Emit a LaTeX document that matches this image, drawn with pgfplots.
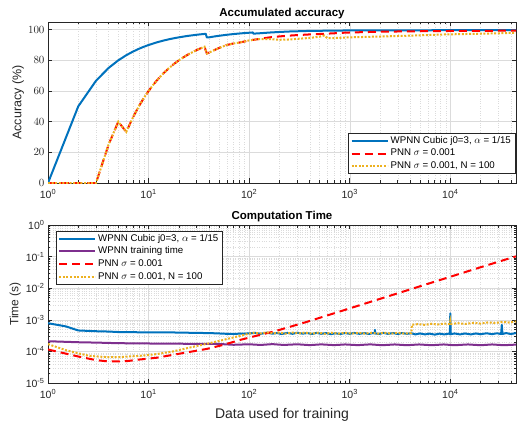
\documentclass[border=0pt]{standalone}
\usepackage{fontspec}
\setmainfont{Liberation Sans}
\usepackage{pgfplots}
\pgfplotsset{compat=1.18}
\definecolor{mblue}{rgb}{0,0.447,0.741}
\definecolor{mred}{rgb}{1,0,0}
\definecolor{myellow}{rgb}{0.929,0.694,0.125}
\definecolor{mpurple}{rgb}{0.494,0.184,0.556}
\definecolor{axgray}{rgb}{0.15,0.15,0.15}
\definecolor{gridc}{rgb}{0.86,0.86,0.86}
\tikzset{
  pblue/.style={color=mblue, line width=2pt, line join=round},
  ppurple/.style={color=mpurple, line width=2pt, line join=round},
  pred/.style={color=mred, line width=2pt, dash pattern=on 8pt off 5pt},
  pyellow/.style={color=myellow, line width=2pt, dash pattern=on 2pt off 1.6pt},
}
\begin{document}
\begin{tikzpicture}
\useasboundingbox (0,0) rectangle (517pt,421pt);
% ---------------- top axis ----------------
\begin{axis}[
    scale only axis, width=468pt, height=161pt,
    at={(48pt,238pt)}, anchor=south west,
    xmode=log, xmin=1, xmax=45000,
    xtick={1,10,100,1000,10000},
    xticklabels={10\textsuperscript{0},10\textsuperscript{1},10\textsuperscript{2},10\textsuperscript{3},10\textsuperscript{4}},
    minor xtick={2,3,4,5,6,7,8,9,20,30,40,50,60,70,80,90,200,300,400,500,600,700,800,900,2000,3000,4000,5000,6000,7000,8000,9000,20000,30000,40000},
    tick align=inside,
    major tick length=4.5pt, minor tick length=2.5pt,
    axis line style={axgray, line width=0.5pt},
    every tick/.style={axgray, line width=0.5pt},
    tick label style={font=\fontsize{10.5}{12}\selectfont, color=axgray},
    xticklabel style={anchor=base, yshift=-15pt},
    xmajorgrids, xminorgrids, ymajorgrids,
    major grid style={color=gridc, line width=0.4pt},
    minor grid style={color=gridc, dotted, line width=0.4pt},
    title style={at={(0.5,1)}, anchor=base, yshift=-1pt, inner sep=0pt,
      font=\bfseries\fontsize{11.5}{13}\selectfont},
    legend image code/.code={\draw[#1] (0pt,0pt) -- (36pt,0pt);},
    legend style={draw=axgray, line width=0.5pt, font=\fontsize{9.7}{11}\selectfont,
      inner xsep=2pt, inner ysep=1pt, row sep=0pt,
      nodes={inner ysep=1.8pt, text height=7pt, text depth=2.2pt},
      at={(0.998,0.056)}, anchor=south east},
    legend cell align=left,
    ymin=0, ymax=105, ytick={0,20,40,60,80,100},
    title={Accumulated accuracy},
    ylabel={Accuracy (\%)},
    ylabel style={at={(axis description cs:-0.064,0.5)}, anchor=center,
      font=\fontsize{12.5}{14}\selectfont, color=axgray},
]
\addplot[pblue] coordinates {
(1,0) (2,50) (3,66.67) (4,75) (5,80) (6,83.33) (7,85.71) (8,87.5) (9,88.89) (10,90)
(12,91.67) (14,92.86) (16,93.75) (18,94.44) (20,95) (23,95.65) (26,96.15) (30,96.67)
(33,96.97) (37,97.30) (38,94.9) (40,95.0) (45,95.56) (50,96) (60,96.67) (70,97.14)
(80,97.5) (90,97.78) (100,98) (109,98.17) (110,97.4) (130,97.69) (160,98.13) (200,98.5)
(250,98.8) (320,99.0) (400,99.2) (550,99.3) (700,99.4) (1000,99.5) (2000,99.55)
(5000,99.6) (10000,99.65) (45000,99.75)
};
\addlegendentry{WPNN Cubic j0=3, $\alpha$ = 1/15}
\addplot[pred] coordinates {
(1,0) (2,0) (3,0) (4,25) (5,40) (6,33.33) (7,42.86) (8,50) (9,55.56) (10,60)
(11,63.64) (12,66.67) (13,69.23) (14,71.43) (16,75) (18,77.78) (20,80) (23,82.61)
(26,84.62) (30,86.67) (33,87.88) (36,88.89) (37,86.49) (38,84.5) (40,85) (45,86.67)
(50,88) (55,89.09) (60,90) (70,91.0) (80,91.6) (90,92.3) (100,93) (126,93.9)
(160,95) (200,95.6) (275,96.3) (400,96.9) (600,97.4) (930,98.1) (2100,98.7)
(7800,99.1) (29000,99.3) (45000,99.4)
};
\addlegendentry{PNN $\sigma$ = 0.001}
\addplot[pyellow] coordinates {
(1,0) (2,0) (3,0) (4,25) (5,40) (6,33.33) (7,42.86) (8,50) (9,55.56) (10,60)
(11,63.64) (12,66.67) (13,69.23) (14,71.43) (16,75) (18,77.78) (20,80) (23,82.61)
(26,84.62) (30,86.67) (33,87.88) (36,88.89) (37,86.49) (38,84.5) (40,85) (45,86.67)
(50,88) (55,89.09) (60,90) (70,91.0) (80,91.6) (90,92.3) (100,93) (126,93.9)
(160,93.8) (200,93.4) (250,93.6) (300,94.0) (400,94.6) (500,95.4) (560,96.2)
(600,94.4) (800,94.7) (1000,95.0) (1500,95.3) (2500,95.7) (5000,96.3) (8000,96.8)
(15000,97.2) (29000,97.6) (45000,98.0)
};
\addlegendentry{PNN $\sigma$ = 0.001, N = 100}
\end{axis}
% ---------------- bottom axis ----------------
\begin{axis}[
    scale only axis, width=468pt, height=158pt,
    at={(48pt,38pt)}, anchor=south west,
    xmode=log, xmin=1, xmax=45000,
    xtick={1,10,100,1000,10000},
    xticklabels={10\textsuperscript{0},10\textsuperscript{1},10\textsuperscript{2},10\textsuperscript{3},10\textsuperscript{4}},
    minor xtick={2,3,4,5,6,7,8,9,20,30,40,50,60,70,80,90,200,300,400,500,600,700,800,900,2000,3000,4000,5000,6000,7000,8000,9000,20000,30000,40000},
    tick align=inside,
    major tick length=4.5pt, minor tick length=2.5pt,
    axis line style={axgray, line width=0.5pt},
    every tick/.style={axgray, line width=0.5pt},
    tick label style={font=\fontsize{10.5}{12}\selectfont, color=axgray},
    xticklabel style={anchor=base, yshift=-15pt},
    xmajorgrids, xminorgrids, ymajorgrids, yminorgrids,
    major grid style={color=gridc, line width=0.4pt},
    minor grid style={color=gridc, dotted, line width=0.4pt},
    title style={at={(0.5,1)}, anchor=base, yshift=0pt, inner sep=0pt,
      font=\bfseries\fontsize{11.5}{13}\selectfont},
    legend image code/.code={\draw[#1] (0pt,0pt) -- (36pt,0pt);},
    legend style={draw=axgray, line width=0.5pt, font=\fontsize{9.7}{11}\selectfont,
      inner xsep=2pt, inner ysep=1pt, row sep=0pt,
      nodes={inner ysep=1.8pt, text height=7pt, text depth=2.2pt},
      at={(0.017,0.962)}, anchor=north west},
    legend cell align=left,
    ymode=log, ymin=1e-5, ymax=1,
    ytick={1e-5,1e-4,1e-3,1e-2,1e-1,1},
    yticklabels={10\textsuperscript{-5},10\textsuperscript{-4},10\textsuperscript{-3},10\textsuperscript{-2},10\textsuperscript{-1},10\textsuperscript{0}},
    minor ytick={2e-5,3e-5,4e-5,5e-5,6e-5,7e-5,8e-5,9e-5,2e-4,3e-4,4e-4,5e-4,6e-4,7e-4,8e-4,9e-4,2e-3,3e-3,4e-3,5e-3,6e-3,7e-3,8e-3,9e-3,0.02,0.03,0.04,0.05,0.06,0.07,0.08,0.09,0.2,0.3,0.4,0.5,0.6,0.7,0.8,0.9},
    title={Computation Time},
    ylabel={Time (s)},
    ylabel style={at={(axis description cs:-0.070,0.5)}, anchor=center,
      font=\fontsize{12}{14}\selectfont, color=axgray},
    xlabel={Data used for training},
    xlabel style={at={(axis description cs:0.5,0)}, anchor=base, yshift=-35pt, inner sep=0pt,
      font=\fontsize{14}{16}\selectfont, color=axgray},
]
\addplot[pblue] coordinates {
(1,7.8e-4) (1.5,6.2e-4) (2,4.6e-4) (3,4.35e-4) (4,4.25e-4) (5,4.1e-4) (7,4.05e-4)
(10,4.0e-4) (15,4.0e-4) (20,3.95e-4) (30,3.85e-4) (40,3.8e-4) (50,3.7e-4) (60,3.6e-4)
(70,3.55e-4) (80,3.65e-4) (100,3.7e-4)
(115,3.85e-4) (130,3.6e-4) (150,3.9e-4) (170,3.65e-4) (190,3.8e-4) (210,3.55e-4)
(240,3.85e-4) (270,3.6e-4) (300,3.9e-4) (340,3.65e-4) (380,3.8e-4) (420,3.55e-4)
(470,3.85e-4) (520,3.6e-4) (580,3.8e-4) (650,3.5e-4) (720,3.75e-4) (800,3.55e-4)
(900,3.8e-4) (1000,3.6e-4) (1100,3.85e-4) (1250,3.6e-4) (1400,3.8e-4) (1550,3.55e-4)
(1700,3.8e-4) (1770,3.7e-4) (1780,4.8e-4) (1790,3.7e-4) (1950,3.55e-4) (2150,3.85e-4)
(2400,3.6e-4) (2700,3.8e-4) (3000,3.55e-4) (3300,3.8e-4) (3700,3.6e-4) (4100,3.75e-4)
(4500,3.45e-4) (5000,3.7e-4) (5600,3.45e-4) (6200,3.65e-4) (7000,3.4e-4) (7800,3.65e-4)
(8700,3.45e-4) (9600,3.65e-4) (9900,3.5e-4) (10000,1.6e-3) (10100,3.5e-4) (11000,3.7e-4)
(12500,3.45e-4) (14000,3.7e-4) (16000,3.45e-4) (18000,3.7e-4) (20000,3.5e-4)
(23000,3.75e-4) (26000,3.5e-4) (29000,3.75e-4) (32000,3.55e-4) (32500,6.9e-4)
(33000,3.55e-4) (36000,3.8e-4) (40000,3.55e-4) (45000,3.8e-4)
};
\addlegendentry{WPNN Cubic j0=3, $\alpha$ = 1/15}
\addplot[ppurple] coordinates {
(1,2.1e-4) (2,1.95e-4) (3,1.9e-4) (5,1.82e-4) (10,1.78e-4) (20,1.75e-4) (50,1.72e-4)
(70,1.62e-4) (100,1.68e-4) (130,1.6e-4) (170,1.7e-4) (220,1.6e-4) (300,1.68e-4)
(400,1.58e-4) (520,1.67e-4) (700,1.58e-4) (900,1.66e-4) (1200,1.58e-4) (1600,1.67e-4)
(2100,1.57e-4) (2800,1.66e-4) (3700,1.57e-4) (4900,1.66e-4) (6500,1.57e-4)
(8600,1.66e-4) (11000,1.57e-4) (15000,1.66e-4) (20000,1.57e-4) (26000,1.66e-4)
(34000,1.57e-4) (45000,1.64e-4)
};
\addlegendentry{WPNN training time}
\addplot[pred] coordinates {
(1,1.15e-4) (2,6.9e-5) (3,5.3e-5) (4,4.8e-5) (6,4.9e-5) (8,5.5e-5) (12,6.3e-5)
(17.5,7.8e-5) (25,9.5e-5) (38,1.2e-4) (55,1.6e-4) (81,2.3e-4) (110,2.95e-4)
(178,4.3e-4) (250,5.9e-4) (370,8.5e-4) (500,1.15e-3) (1000,2.3e-3) (2000,4.6e-3)
(5000,1.15e-2) (10000,2.3e-2) (20000,4.6e-2) (45000,1.02e-1)
};
\addlegendentry{PNN $\sigma$ = 0.001}
\addplot[pyellow] coordinates {
(1,1.7e-4) (1.5,1.1e-4) (2,8.7e-5) (2.6,7.2e-5) (3.8,6.6e-5) (5,6.6e-5) (8,7.2e-5)
(12,8.2e-5) (17.5,1.0e-4) (25,1.3e-4) (38,1.74e-4) (55,2.3e-4) (81,3.1e-4) (110,3.9e-4)
(130,3.7e-4) (150,4.0e-4) (175,3.7e-4) (200,3.95e-4) (230,3.65e-4) (270,3.95e-4)
(310,3.7e-4) (360,3.95e-4) (420,3.65e-4) (490,3.9e-4) (570,3.6e-4) (660,3.9e-4)
(770,3.65e-4) (900,3.9e-4) (1050,3.65e-4) (1220,3.9e-4) (1420,3.65e-4) (1650,3.9e-4)
(1900,3.65e-4) (2200,3.9e-4) (2600,3.65e-4) (3000,3.9e-4) (3500,3.65e-4) (4100,3.8e-4)
(4150,7.0e-4) (4800,7.3e-4) (5600,6.9e-4) (6500,7.5e-4) (7500,7.1e-4) (8700,7.6e-4)
(9900,7.3e-4) (10000,9.0e-4) (10100,7.4e-4) (12000,7.8e-4) (14000,7.4e-4)
(17000,8.0e-4) (20000,7.6e-4) (24000,8.3e-4) (28000,7.9e-4) (33000,8.6e-4)
(38000,8.2e-4) (45000,8.8e-4)
};
\addlegendentry{PNN $\sigma$ = 0.001, N = 100}
\end{axis}
\end{tikzpicture}
\end{document}
